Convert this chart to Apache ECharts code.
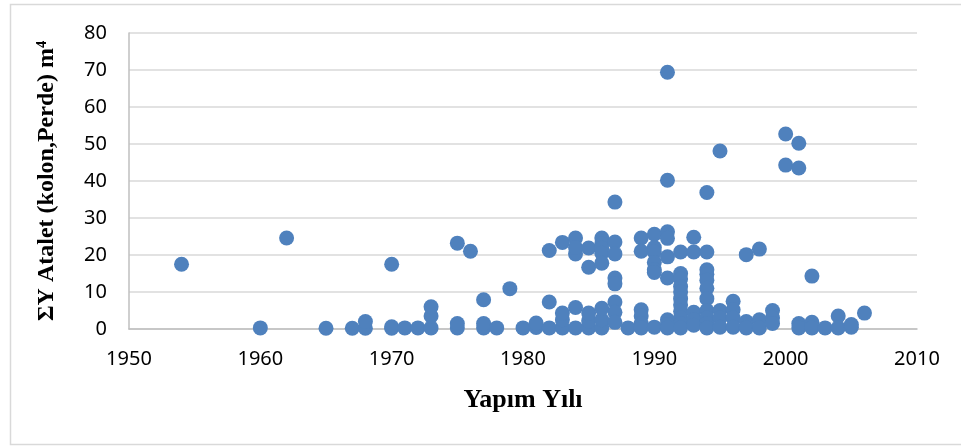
<!DOCTYPE html>
<html>
<head>
<meta charset="utf-8">
<script src="https://cdn.jsdelivr.net/npm/echarts@6/dist/echarts.min.js"></script>
<style>
  html, body { margin: 0; padding: 0; background: #fff; }
  #chart-container { width: 961px; height: 448px; }
</style>
</head>
<body>
<div id="chart-container"></div>
<script>
// build year of each building and its total moment of inertia (m4)
const years = [
  1954, 1960, 1962, 1965, 1967, 1968, 1968,
  1970, 1970, 1970, 1971, 1972, 1973, 1973, 1973,
  1975, 1975, 1975, 1976, 1977, 1977, 1977, 1978, 1979,
  1980, 1981, 1981, 1982, 1982, 1982,
  1983, 1983, 1983, 1983,
  1984, 1984, 1984, 1984, 1984,
  1985, 1985, 1985, 1985, 1985,
  1986, 1986, 1986, 1986, 1986, 1986, 1986, 1986,
  1987, 1987, 1987, 1987, 1987, 1987, 1987, 1987,
  1988,
  1989, 1989, 1989, 1989, 1989, 1989,
  1990, 1990, 1990, 1990, 1990, 1990, 1990,
  1991, 1991, 1991, 1991, 1991, 1991, 1991, 1991, 1991,
  1992, 1992, 1992, 1992, 1992, 1992, 1992, 1992, 1992, 1992, 1992,
  1993, 1993, 1993, 1993, 1993,
  1994, 1994, 1994, 1994, 1994, 1994, 1994, 1994, 1994, 1994, 1994,
  1995, 1995, 1995, 1995,
  1996, 1996, 1996, 1996,
  1997, 1997, 1997,
  1998, 1998, 1998,
  1999, 1999, 1999,
  2000, 2000,
  2001, 2001, 2001, 2001,
  2002, 2002, 2002,
  2003, 2004, 2004, 2005, 2005, 2006
];
const inertia = [
  17.5, 0.3, 24.6, 0.2, 0.2, 0.2, 2.0,
  17.5, 0.2, 0.6, 0.3, 0.3, 0.3, 3.5, 6.0,
  23.2, 0.3, 1.5, 21.0, 7.9, 0.3, 1.5, 0.3, 10.9,
  0.3, 0.4, 1.6, 21.2, 7.3, 0.3,
  23.4, 0.3, 2.5, 4.3,
  24.6, 20.3, 22.0, 5.8, 0.3,
  21.9, 16.7, 0.3, 2.2, 4.3,
  24.6, 23.0, 21.8, 20.5, 17.8, 0.3, 2.5, 5.6,
  34.3, 23.5, 20.3, 13.8, 12.2, 7.3, 4.5, 1.8,
  0.3,
  24.6, 21.0, 5.2, 3.5, 1.5, 0.3,
  25.6, 22.0, 20.8, 18.0, 16.0, 15.3, 0.5,
  69.4, 40.2, 26.3, 24.5, 19.5, 13.8, 2.5, 1.2, 0.3,
  20.8, 15.0, 13.5, 11.5, 10.0, 8.2, 6.5, 4.8, 3.0, 1.5, 0.3,
  24.8, 20.8, 4.5, 2.5, 1.0,
  36.9, 20.8, 16.0, 14.8, 13.2, 11.0, 8.2, 5.0, 3.0, 1.5, 0.3,
  48.1, 5.0, 3.0, 0.5,
  7.5, 5.2, 3.0, 0.5,
  20.1, 2.0, 0.3,
  21.6, 2.5, 0.3,
  5.0, 3.0, 1.5,
  52.7, 44.3,
  50.2, 43.5, 1.5, 0.3,
  14.3, 1.8, 0.3,
  0.3, 3.5, 0.3, 0.5, 1.2, 4.3
];

(() => {
  var dom = document.getElementById("chart-container");
  var chart = echarts.init(dom, null, { renderer: "canvas" });
  const labelFont = { fontFamily: "Noto Sans", fontSize: 20, color: "#000" };
  const titleFont = { fontFamily: "Liberation Serif", fontWeight: "bold", color: "#000" };

  const option = {
    animation: false,
    backgroundColor: "#fff",
    grid: { left: 129, right: 44, top: 33, bottom: 119 },
    graphic: [
      {
        type: "rect",
        shape: { x: 10.5, y: 4.5, width: 960, height: 440 },
        style: { fill: "none", stroke: "#d9d9d9", lineWidth: 1.5 },
        silent: true,
      },
    ],
    xAxis: {
      type: "value",
      min: 1950,
      max: 2010,
      interval: 10,
      name: "Yapım Yılı",
      nameLocation: "middle",
      nameGap: 58,
      nameTextStyle: { ...titleFont, fontSize: 26 },
      axisLine: { show: true, onZero: false, lineStyle: { color: "#bfbfbf", width: 1.5 } },
      axisTick: { show: false },
      splitLine: { show: false },
      axisLabel: { ...labelFont, margin: 20, formatter: (v) => String(v) },
    },
    yAxis: {
      type: "value",
      min: 0,
      max: 80,
      interval: 10,
      name: "ΣY Atalet (kolon,Perde) m⁴",
      nameLocation: "middle",
      nameGap: 70,
      nameTextStyle: { ...titleFont, fontSize: 24 },
      axisLine: { show: true, lineStyle: { color: "#bfbfbf", width: 1.5 } },
      axisTick: { show: false },
      splitLine: { show: true, lineStyle: { color: "#d9d9d9", width: 1.5 } },
      axisLabel: { ...labelFont, margin: 22 },
    },
    series: [
      {
        type: "scatter",
        symbol: "circle",
        symbolSize: 15,
        itemStyle: { color: "#4f81bd", opacity: 1 },
        data: years.map((y, i) => [y, inertia[i]]),
      },
    ],
  };

  chart.setOption(option);
  window.addEventListener("resize", chart.resize);
})();
</script>
</body>
</html>
